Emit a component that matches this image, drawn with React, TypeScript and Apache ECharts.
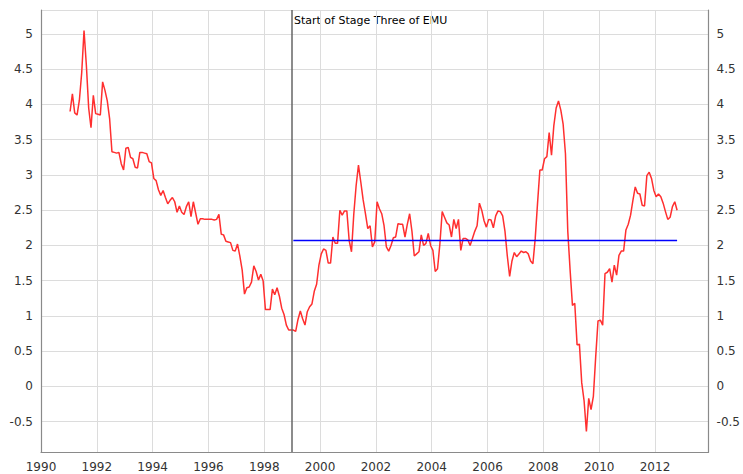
import React, { useEffect, useRef } from "react";
import * as echarts from "echarts";

const y1991 = [3.9, 4.15, 3.88, 3.85, 4.06, 4.45, 5.05, 4.56, 3.95, 3.67, 4.13, 3.87];
const y1992 = [3.86, 3.85, 4.32, 4.2, 4.05, 3.8, 3.33, 3.32, 3.31, 3.32, 3.16, 3.07];
const y1993 = [3.38, 3.39, 3.25, 3.23, 3.11, 3.1, 3.32, 3.32, 3.31, 3.3, 3.19, 3.17];
const y1994 = [2.95, 2.92, 2.79, 2.71, 2.78, 2.68, 2.59, 2.64, 2.68, 2.62, 2.47, 2.56];
const y1995 = [2.47, 2.44, 2.55, 2.62, 2.41, 2.62, 2.46, 2.3, 2.38, 2.38, 2.37, 2.37];
const y1996 = [2.37, 2.37, 2.36, 2.37, 2.44, 2.16, 2.15, 2.06, 2.05, 2.04, 1.93, 1.92];
const y1997 = [2.02, 1.85, 1.65, 1.31, 1.4, 1.41, 1.48, 1.71, 1.63, 1.51, 1.59, 1.5];
const y1998 = [1.09, 1.09, 1.09, 1.38, 1.3, 1.4, 1.28, 1.11, 1.02, 0.87, 0.8, 0.8];
const y1999 = [0.8, 0.78, 0.95, 1.07, 0.96, 0.87, 1.06, 1.13, 1.17, 1.35, 1.45, 1.72];
const y2000 = [1.88, 1.95, 1.93, 1.75, 1.75, 2.12, 2.03, 2.03, 2.5, 2.43, 2.49, 2.49];
const y2001 = [2.07, 1.91, 2.45, 2.85, 3.14, 2.9, 2.65, 2.45, 2.24, 2.28, 1.98, 2.05];
const y2002 = [2.62, 2.52, 2.45, 2.28, 1.98, 1.92, 2.0, 2.11, 2.12, 2.31, 2.3, 2.3];
const y2003 = [2.12, 2.3, 2.45, 2.2, 1.85, 1.88, 1.91, 2.15, 2.0, 2.03, 2.17, 2.0];
const y2004 = [1.93, 1.63, 1.67, 2.02, 2.48, 2.4, 2.32, 2.29, 2.12, 2.37, 2.24, 2.37];
const y2005 = [1.93, 2.1, 2.1, 2.08, 2.0, 2.1, 2.2, 2.28, 2.6, 2.5, 2.35, 2.26];
const y2006 = [2.37, 2.36, 2.25, 2.42, 2.49, 2.48, 2.42, 2.2, 1.85, 1.56, 1.78, 1.9];
const y2007 = [1.84, 1.88, 1.92, 1.9, 1.91, 1.88, 1.78, 1.74, 2.1, 2.6, 3.07, 3.07];
const y2008 = [3.23, 3.26, 3.6, 3.28, 3.7, 3.95, 4.05, 3.92, 3.72, 3.3, 2.2, 1.65];
const y2009 = [1.15, 1.18, 0.59, 0.6, 0.05, -0.2, -0.64, -0.17, -0.33, -0.14, 0.42, 0.93];
const y2010 = [0.94, 0.87, 1.6, 1.62, 1.67, 1.48, 1.72, 1.58, 1.86, 1.92, 1.92, 2.22];
const y2011 = [2.3, 2.43, 2.64, 2.83, 2.74, 2.73, 2.57, 2.56, 2.99, 3.04, 2.95, 2.78];
const y2012 = [2.69, 2.73, 2.69, 2.6, 2.48, 2.37, 2.4, 2.55, 2.62, 2.5];

const YEARS = [1991, 1992, 1993, 1994, 1995, 1996, 1997, 1998, 1999, 2000, 2001,
  2002, 2003, 2004, 2005, 2006, 2007, 2008, 2009, 2010, 2011, 2012];
const VALUES = [y1991, y1992, y1993, y1994, y1995, y1996, y1997, y1998, y1999, y2000, y2001,
  y2002, y2003, y2004, y2005, y2006, y2007, y2008, y2009, y2010, y2011, y2012];

// Average since the start of Stage Three
const AVERAGE_SINCE_EMU = 2.07;
const EMU_START = 1999;
const EMU_LABEL = "Start of Stage Three of EMU";

const X_MIN = 1990;
const X_MAX = 2013.92;
const Y_MIN = -0.93;
const Y_MAX = 5.34;

export default function App() {
  const ref = useRef<HTMLDivElement>(null);

  useEffect(() => {
    if (!ref.current) return;
    const chart = echarts.init(ref.current, null, { renderer: "svg" });

    const series: [number, number][] = [];
    YEARS.forEach((yr, i) => {
      VALUES[i].forEach((v, m) => series.push([yr + (m + 0.5) / 12, v]));
    });
    const emuFirst = series.find((p) => p[0] >= EMU_START)!;
    const last = series[series.length - 1];
    const avgLine = [
      [emuFirst[0], AVERAGE_SINCE_EMU],
      [last[0], AVERAGE_SINCE_EMU],
    ];

    const font = "DejaVu Sans";
    const gridColor = "#dcdcdc";
    const axisColor = "#8a8a8a";

    const yAxisBase = {
      type: "value" as const,
      min: Y_MIN,
      max: Y_MAX,
      splitNumber: 12,
      minInterval: 0.5,
      maxInterval: 0.5,
      axisLine: { show: true, lineStyle: { color: axisColor, width: 1.2 } },
      axisTick: { show: false },
      axisLabel: {
        showMinLabel: false,
        showMaxLabel: false,
        color: "#333",
        fontFamily: font,
        fontSize: 12,
        margin: 8,
      },
    };

    chart.setOption({
      animation: false,
      backgroundColor: "#fff",
      grid: { left: 41, right: 30, top: 10, bottom: 22, containLabel: false },
      xAxis: {
        type: "value",
        min: X_MIN,
        max: X_MAX,
        interval: 2,
        axisLine: { show: true, onZero: false, lineStyle: { color: axisColor, width: 1.2 } },
        axisTick: { show: false },
        axisLabel: {
          showMaxLabel: false,
          color: "#333",
          fontFamily: font,
          fontSize: 12,
          margin: 9,
          formatter: (v: number) => String(Math.round(v)),
        },
        splitLine: { show: true, lineStyle: { color: gridColor, width: 1 } },
      },
      yAxis: [
        {
          ...yAxisBase,
          position: "left",
          splitLine: { show: true, lineStyle: { color: gridColor, width: 1 } },
        },
        {
          ...yAxisBase,
          position: "right",
          splitLine: { show: false },
        },
      ],
      series: [
        {
          type: "line",
          data: series,
          showSymbol: false,
          symbol: "none",
          lineStyle: { color: "#ff2f2f", width: 1.5 },
          z: 2,
        },
        {
          type: "line",
          data: avgLine,
          showSymbol: false,
          symbol: "none",
          lineStyle: { color: "#0000ff", width: 1.5 },
          z: 3,
          markLine: {
            silent: true,
            symbol: ["none", "none"],
            label: { show: false },
            lineStyle: { color: "#666", width: 1.5, type: "solid" },
            data: [{ xAxis: EMU_START }],
          },
        },
      ],
      graphic: [
        {
          type: "text",
          left: 294,
          top: 15,
          style: {
            text: EMU_LABEL,
            fill: "#000",
            fontFamily: font,
            fontSize: 11,
          },
        },
      ],
    });

    return () => chart.dispose();
  }, []);

  return (
    <div
      ref={ref}
      style={{ position: "fixed", left: 0, top: 0, width: 743, height: 474 }}
    />
  );
}
